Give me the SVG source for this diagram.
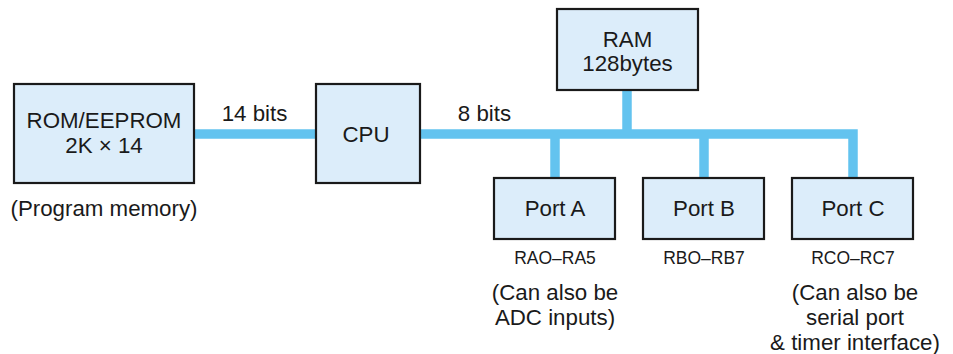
<svg xmlns="http://www.w3.org/2000/svg" width="953" height="354" viewBox="0 0 953 354">
<style>
.box{fill:#dcedfa;stroke:#1a1a1a;stroke-width:2.2}
.bus{fill:none;stroke:#63c3ef;stroke-width:9.5;stroke-linecap:butt}
text{font-family:"Liberation Sans",Arial,sans-serif;fill:#1a1a1a;text-anchor:middle}
.t{font-size:22.3px}
.s{font-size:17.5px}
</style>
<rect width="953" height="354" fill="#ffffff"/>
<g id="connectors">
<path class="bus" d="M194 134H316"/>
<path class="bus" d="M420 134H853V178"/>
<path class="bus" d="M627 90V134"/>
<path class="bus" d="M555 134V178"/>
<path class="bus" d="M704 134V178"/>
</g>
<g id="rom">
<rect class="box" x="14" y="84" width="180" height="99"/>
<text class="t" x="104" y="128">ROM/EEPROM</text>
<text class="t" x="104" y="153">2K × 14</text>
<text class="t" x="104" y="216">(Program memory)</text>
</g>
<g id="cpu">
<rect class="box" x="316" y="84" width="104" height="99"/>
<text class="t" x="366" y="142">CPU</text>
</g>
<g id="ram">
<rect class="box" x="557" y="9" width="141" height="81"/>
<text class="t" x="627.5" y="47">RAM</text>
<text class="t" x="627.5" y="71">128bytes</text>
</g>
<g id="portA">
<rect class="box" x="494" y="178" width="121" height="61"/>
<text class="t" x="555" y="216">Port A</text>
<text class="s" x="555" y="264">RAO–RA5</text>
<text class="t" x="555" y="300">(Can also be</text>
<text class="t" x="555" y="325">ADC inputs)</text>
</g>
<g id="portB">
<rect class="box" x="643" y="178" width="121" height="61"/>
<text class="t" x="704" y="216">Port B</text>
<text class="s" x="704" y="264">RBO–RB7</text>
</g>
<g id="portC">
<rect class="box" x="792" y="178" width="121" height="61"/>
<text class="t" x="853" y="216">Port C</text>
<text class="s" x="853" y="264">RCO–RC7</text>
<text class="t" x="855" y="300">(Can also be</text>
<text class="t" x="855" y="325">serial port</text>
<text class="t" x="855" y="350">&amp; timer interface)</text>
</g>
<g id="labels">
<text class="t" x="254.5" y="121">14 bits</text>
<text class="t" x="484.5" y="121">8 bits</text>
</g>
</svg>
